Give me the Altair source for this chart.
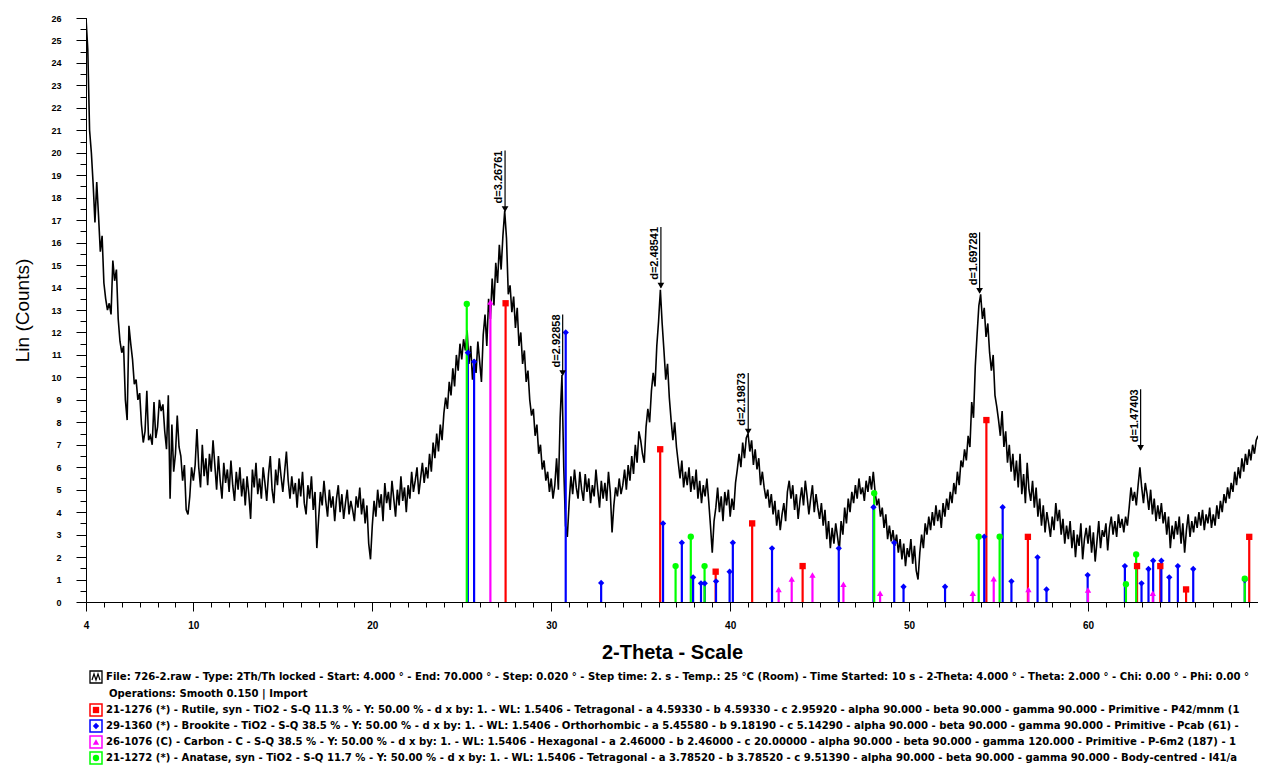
import altair as alt
import pandas as pd

# ---------------- data ----------------
# scan: 2-theta from 4.0 deg in 0.1 deg steps, counts (Lin)
scan_start = 4.0
scan_step = 0.1
counts = [
    26.0, 24.6, 21.0, 20.0, 18.6, 16.9, 18.7, 17.2, 15.6, 16.3,   # 4
    14.2, 13.5, 13.0, 13.3, 12.8, 15.2, 14.3, 14.8, 12.6, 11.6,   # 5
    11.1, 11.4, 9.0, 8.1, 12.3, 11.5, 10.8, 9.7, 9.9, 9.0,        # 6
    9.3, 7.9, 7.1, 7.6, 9.4, 7.2, 7.4, 7.0, 8.9, 7.3,             # 7
    7.8, 9.0, 8.5, 8.8, 7.6, 6.8, 9.2, 4.6, 7.9, 5.8,             # 8
    6.6, 8.3, 6.9, 6.5, 5.4, 6.1, 4.1, 3.9, 4.7, 6.0,             # 9
    5.4, 6.1, 7.7, 6.0, 5.1, 7.0, 5.6, 6.4, 5.2, 6.6,             # 10
    5.8, 7.2, 6.1, 5.0, 6.5, 5.4, 4.6, 6.2, 5.3, 5.9,             # 11
    4.9, 6.3, 5.2, 4.5, 5.8, 5.0, 6.0, 4.7, 5.5, 4.3,             # 12
    5.6, 4.8, 3.7, 5.9, 5.1, 6.2, 4.8, 5.5, 4.6, 6.0,             # 13
    5.3, 4.5, 5.7, 6.5, 5.0, 4.4, 5.9, 5.2, 6.4, 5.6,             # 14
    4.9, 5.8, 6.7, 5.4, 4.6, 5.6, 4.8, 5.3, 4.2, 5.5,             # 15
    4.7, 5.8, 4.4, 3.9, 5.2, 4.6, 5.6, 4.1, 4.9, 2.4,             # 16
    3.7, 4.9, 4.3, 5.4, 4.5, 3.8, 5.0, 4.2, 4.7, 3.6,             # 17
    4.6, 5.2, 4.0, 4.8, 3.7, 4.4, 5.0, 3.9, 4.5, 4.1,             # 18
    3.6, 4.7, 4.2, 5.1, 3.9, 4.6, 3.5, 4.3, 2.6, 1.9,             # 19
    3.4, 4.5, 3.8, 5.0, 4.2, 4.8, 3.6, 5.3, 4.4, 4.9,             # 20
    4.1, 5.4, 4.6, 3.8, 5.0, 4.3, 5.6, 4.5, 5.1, 4.0,             # 21
    5.2, 4.6, 5.8, 4.9, 5.4, 6.0, 4.8, 5.5, 6.2, 5.3,             # 22
    6.0, 5.5, 6.6, 5.8, 7.1, 6.4, 7.5, 6.7, 7.9, 7.2,             # 23
    8.4, 9.1, 8.6, 9.8, 9.2, 10.4, 9.6, 11.0, 10.3, 11.5,         # 24
    10.8, 11.7, 11.2, 12.1, 10.6, 11.4, 9.9, 10.8, 10.2, 11.6,    # 25
    10.7, 9.8, 11.9, 12.8, 11.4, 13.5, 12.6, 14.4, 13.2, 15.1,    # 26
    14.2, 15.9, 14.8, 16.3, 17.4, 16.2, 13.7, 14.1, 12.9, 13.6,   # 27
    12.2, 13.1, 11.4, 12.0, 10.6, 11.2, 9.8, 10.3, 9.0, 8.3,      # 28
    8.6, 7.4, 7.9, 6.6, 7.0, 5.9, 6.3, 5.4, 5.8, 4.9,             # 29
    5.5, 4.6, 5.2, 6.4, 5.0, 8.2, 10.1, 6.0, 3.4, 2.9,            # 30
    4.4, 5.6, 4.8, 5.9, 5.1, 4.6, 5.8, 5.0, 4.5, 5.7,             # 31
    4.9, 5.5, 4.4, 5.2, 4.7, 5.9, 5.0, 4.2, 5.4, 4.6,             # 32
    5.3, 4.5, 5.8, 4.9, 3.1, 4.3, 5.1, 4.7, 5.5, 4.8,             # 33
    5.2, 5.9, 5.0, 6.1, 5.4, 6.5, 5.7, 7.0, 6.2, 7.6,             # 34
    7.2, 6.6, 6.2, 7.8, 8.6, 8.0, 9.4, 10.2, 9.6, 11.4,           # 35
    12.5, 13.9, 12.4, 11.2, 9.9, 10.6, 9.1, 8.1, 7.2, 8.0,        # 36
    6.9, 6.2, 5.5, 6.3, 5.1, 5.8, 5.2, 6.0, 4.9, 5.6,             # 37
    5.0, 5.9, 4.6, 5.4, 4.4, 5.2, 4.7, 5.5, 4.5, 3.4,             # 38
    2.2, 3.6, 4.2, 5.1, 4.0, 4.7, 3.6, 4.9, 4.3, 5.0,             # 39
    3.8, 4.6, 4.1, 5.3, 5.9, 6.6, 6.0, 7.1, 6.4, 7.3,             # 40
    7.5, 6.7, 7.2, 6.1, 6.8, 5.9, 6.4, 5.2, 5.8, 5.1,             # 41
    4.6, 5.0, 4.2, 4.8, 3.9, 4.5, 3.4, 4.1, 3.2, 3.9,             # 42
    4.4, 3.6, 4.9, 5.4, 4.6, 5.2, 4.1, 4.8, 3.7, 4.5,             # 43
    5.1, 4.3, 5.4, 4.7, 3.9, 4.6, 5.2, 4.0, 4.8, 4.2,             # 44
    3.7, 4.4, 3.4, 4.1, 2.8, 3.6, 2.4, 3.3, 2.6, 3.5,             # 45
    2.9, 2.3, 3.6, 3.0, 4.2, 3.5, 4.6, 4.0, 4.9, 4.4,             # 46
    5.2, 4.6, 5.5, 4.8, 5.1, 4.5, 5.4, 4.9, 5.6, 5.0,             # 47
    5.8, 4.9, 4.3, 4.6, 3.8, 4.2, 3.3, 3.9, 2.8, 3.4,             # 48
    2.7, 3.2, 2.5, 3.0, 2.2, 2.8, 1.9, 2.6, 1.6, 2.4,             # 49
    2.0, 2.8, 1.7, 2.5, 1.4, 1.0, 2.2, 3.0, 2.4, 3.5,             # 50
    3.0, 3.8, 3.2, 4.0, 3.4, 4.3, 3.6, 4.1, 3.3, 4.4,             # 51
    3.8, 4.6, 4.1, 4.9, 4.4, 5.3, 4.8, 5.8, 5.2, 6.3,             # 52
    6.0, 6.8, 6.3, 7.4, 6.9, 8.9, 8.2, 10.5, 11.9, 13.2,          # 53
    13.7, 12.6, 13.1, 11.8, 12.4, 11.1, 10.3, 11.0, 9.2, 8.7,     # 54
    8.1, 7.4, 8.5, 6.9, 7.6, 6.2, 7.0, 5.8, 6.6, 5.4,             # 55
    6.3, 5.1, 6.6, 4.8, 5.7, 4.4, 6.2, 5.0, 4.5, 5.4,             # 56
    4.2, 5.1, 3.8, 4.6, 3.4, 4.3, 3.1, 4.0, 3.5, 2.9,             # 57
    3.8, 3.2, 4.4, 3.6, 4.1, 3.0, 3.7, 2.6, 3.4, 2.8,             # 58
    3.6, 2.4, 3.2, 2.0, 3.0, 2.5, 3.5, 1.9, 2.8, 3.3,             # 59
    2.6, 3.4, 2.2, 3.1, 1.8, 2.7, 3.6, 2.4, 3.2, 2.9,             # 60
    3.5, 2.3, 3.3, 3.8, 3.0, 3.6, 2.9, 3.9, 3.3, 3.7,             # 61
    3.1, 3.8, 3.4, 4.2, 5.1, 4.5, 4.9, 4.3, 5.2, 6.0,             # 62
    5.1, 4.4, 5.3, 4.8, 4.1, 5.0, 3.9, 4.6, 3.6, 4.3,             # 63
    3.7, 4.4, 3.5, 4.0, 3.0, 3.8, 2.4, 3.4, 2.8, 3.6,             # 64
    3.0, 3.8, 2.6, 3.5, 2.2, 3.2, 3.9, 2.9, 3.6, 3.1,             # 65
    3.8, 3.3, 4.0, 3.4, 4.1, 3.2, 3.9, 3.5, 4.2, 3.3,             # 66
    3.9, 3.4, 4.3, 3.7, 4.5, 4.0, 4.8, 4.4, 5.1, 4.6,             # 67
    5.3, 4.9, 5.8, 5.2, 6.0, 5.5, 6.4, 5.8, 6.6, 6.1,             # 68
    6.8, 6.3, 7.0, 6.6, 7.2, 7.4,                                 # 69
]

# reference patterns (stick positions in 2-theta, stick heights in counts)
rutile_pos = [27.45, 36.09, 39.19, 41.23, 44.05, 54.32, 56.64, 62.74, 64.04, 65.48, 69.01]
rutile_int = [13.3, 6.8, 1.35, 3.5, 1.6, 8.1, 2.9, 1.6, 1.6, 0.56, 2.9]

brookite_pos = [25.34, 25.69, 30.81, 32.79, 36.25, 37.30, 37.93, 38.37, 38.58, 39.21,
                39.97, 40.15, 42.34, 46.07, 48.01, 49.17, 49.69, 52.01, 54.20, 55.23,
                55.72, 57.18, 57.68, 59.98, 62.06, 62.99, 63.38, 63.64, 64.10, 64.54,
                65.02, 65.88, 68.76]
brookite_int = [11.1, 10.7, 12.0, 0.85, 3.5, 2.64, 1.1, 0.83, 0.83, 0.92,
                1.35, 2.64, 2.39, 2.39, 4.22, 2.64, 0.68, 0.68, 2.91, 4.22,
                0.92, 1.99, 0.56, 1.2, 1.6, 0.83, 1.47, 1.84, 1.84, 1.1,
                1.6, 1.47, 0.98]

carbon_pos = [26.60, 42.71, 43.44, 44.60, 46.33, 48.38, 53.56, 54.73, 56.67, 60.00, 63.62]
carbon_int = [13.36, 0.56, 1.02, 1.2, 0.79, 0.39, 0.39, 1.04, 0.56, 0.53, 0.39]

anatase_pos = [25.28, 36.95, 37.80, 38.57, 48.05, 53.89, 55.06, 62.12, 62.69, 68.76]
anatase_int = [13.27, 1.6, 2.91, 1.6, 4.84, 2.91, 2.91, 0.79, 2.12, 1.04]

phase_names = ["Rutile", "Brookite", "Carbon", "Anatase"]
phase_colors = ["#ff0000", "#0000ff", "#ff00ff", "#00ff00"]
phase_shapes = ["square", "diamond", "triangle-up", "circle"]

# d-spacing peak labels
peak_pos = [27.42, 30.64, 36.13, 41.01, 53.94, 62.94]
peak_top = [17.4, 10.1, 14.0, 7.5, 13.76, 6.77]
peak_label = ["d=3.26761", "d=2.92858", "d=2.48541", "d=2.19873", "d=1.69728", "d=1.47403"]

# x tick labels, y tick labels
x_label_values = [4, 10, 20, 30, 40, 50, 60]
x_tick_values = list(range(4, 70))
y_tick_values = [i / 2 for i in range(53)]

legend_lines = [
    "File: 726-2.raw - Type: 2Th/Th locked - Start: 4.000 \u00b0 - End: 70.000 \u00b0 - Step: 0.020 \u00b0 - Step time: 2. s - Temp.: 25 \u00b0C (Room) - Time Started: 10 s - 2-Theta: 4.000 \u00b0 - Theta: 2.000 \u00b0 - Chi: 0.00 \u00b0 - Phi: 0.00 \u00b0",
    "Operations: Smooth 0.150 | Import",
    "21-1276 (*) - Rutile, syn - TiO2 - S-Q 11.3 % - Y: 50.00 % - d x by: 1. - WL: 1.5406 - Tetragonal - a 4.59330 - b 4.59330 - c 2.95920 - alpha 90.000 - beta 90.000 - gamma 90.000 - Primitive - P42/mnm (1",
    "29-1360 (*) - Brookite - TiO2 - S-Q 38.5 % - Y: 50.00 % - d x by: 1. - WL: 1.5406 - Orthorhombic - a 5.45580 - b 9.18190 - c 5.14290 - alpha 90.000 - beta 90.000 - gamma 90.000 - Primitive - Pcab (61) -",
    "26-1076 (C) - Carbon - C - S-Q 38.5 % - Y: 50.00 % - d x by: 1. - WL: 1.5406 - Hexagonal - a 2.46000 - b 2.46000 - c 20.00000 - alpha 90.000 - beta 90.000 - gamma 120.000 - Primitive - P-6m2 (187) - 1",
    "21-1272 (*) - Anatase, syn - TiO2 - S-Q 11.7 % - Y: 50.00 % - d x by: 1. - WL: 1.5406 - Tetragonal - a 3.78520 - b 3.78520 - c 9.51390 - alpha 90.000 - beta 90.000 - gamma 90.000 - Body-centred - I41/a",
]

# ---------------- tables ----------------
scan = pd.DataFrame({
    "two_theta": [round(scan_start + i * scan_step, 2) for i in range(len(counts))],
    "counts": counts,
})

frames = []
for name, pos, inten in zip(phase_names,
                            [rutile_pos, brookite_pos, carbon_pos, anatase_pos],
                            [rutile_int, brookite_int, carbon_int, anatase_int]):
    frames.append(pd.DataFrame({"phase": name, "two_theta": pos, "counts": inten}))
sticks = pd.concat(frames, ignore_index=True)

LEADER = 2.7  # length of the d-label leader, in counts
peaks = pd.DataFrame({
    "two_theta": peak_pos,
    "counts": peak_top,
    "leader_top": [t + LEADER for t in peak_top],
    "label": peak_label,
})

# ---------------- styling ----------------
FONT = "Liberation Sans, Arial, sans-serif"
LFONT = "DejaVu Sans, Verdana, sans-serif"
W, H = 1172, 584

x_scale = alt.Scale(domain=[4, 69.5], nice=False, zero=False)
y_scale = alt.Scale(domain=[0, 26], nice=False, zero=True)
color_scale = alt.Scale(domain=phase_names, range=phase_colors)
shape_scale = alt.Scale(domain=phase_names, range=phase_shapes)

x_axis = alt.Axis(
    title="2-Theta - Scale",
    values=x_tick_values,
    labelExpr="indexof(%s, datum.value) >= 0 ? format(datum.value, 'd') : ''" % str(x_label_values),
    tickSize={"condition": {"test": "indexof(%s, datum.value) >= 0" % str(x_label_values), "value": 9}, "value": 5},
    labelOverlap=False, labelFlush=False,
    labelFont=FONT, labelFontSize=10, labelFontWeight="bold", labelColor="black",
    labelPadding=9,
    titleFont=FONT, titleFontSize=20, titleFontWeight="bold", titleColor="black",
    titlePadding=12,
    domainColor="black", tickColor="black", grid=False,
)
y_axis = alt.Axis(
    title="Lin (Counts)",
    values=y_tick_values,
    labelExpr="datum.value % 1 == 0 ? format(datum.value, 'd') : ''",
    tickSize={"condition": {"test": "datum.value % 1 == 0", "value": 10}, "value": 6},
    labelOverlap=False, labelFlush=False,
    labelFont=FONT, labelFontSize=9, labelFontWeight="bold", labelColor="black",
    labelPadding=15,
    titleFont=FONT, titleFontSize=19, titleFontWeight="normal", titleColor="black",
    titlePadding=18,
    domainColor="black", tickColor="black", grid=False,
)

X_ENC = alt.X("two_theta:Q", scale=x_scale, axis=x_axis)
Y_ENC = alt.Y("counts:Q", scale=y_scale, axis=y_axis)

line = alt.Chart(scan).mark_line(color="black", strokeWidth=1.6, clip=True).encode(
    x=X_ENC, y=Y_ENC,
)

stick_rules = alt.Chart(sticks).mark_rule(strokeWidth=2.2).encode(
    x=X_ENC, y=Y_ENC,
    y2=alt.datum(0),
    color=alt.Color("phase:N", scale=color_scale, legend=None),
)
stick_marks = alt.Chart(sticks).mark_point(filled=True, size=40, opacity=1).encode(
    x=X_ENC, y=Y_ENC,
    color=alt.Color("phase:N", scale=color_scale, legend=None),
    shape=alt.Shape("phase:N", scale=shape_scale, legend=None),
)

leaders = alt.Chart(peaks).mark_rule(color="black", strokeWidth=1.2).encode(
    x=X_ENC, y=Y_ENC,
    y2="leader_top:Q",
)
arrows = alt.Chart(peaks).mark_point(shape="triangle-down", filled=True, color="black",
                                     size=45, opacity=1, yOffset=-2).encode(
    x=X_ENC, y=Y_ENC,
)
peak_text = alt.Chart(peaks).mark_text(angle=270, align="right", baseline="bottom",
                                       font=FONT, fontSize=11, fontWeight="bold",
                                       color="black", dy=-1).encode(
    x=X_ENC,
    y=alt.Y("leader_top:Q", scale=y_scale, axis=y_axis),
    text="label:N",
)

# ---------------- legend block under the axis ----------------
row_y = [659, 675.5, 692, 708, 724, 740]
icon_x = 10
text_x = 20
legend_layers = []
one = pd.DataFrame({"k": [0]})
# scan icon
legend_layers.append(alt.Chart(one).mark_point(shape="square", filled=False, color="black",
                                               size=144, strokeWidth=1.3, opacity=1).encode(
    x=alt.value(icon_x), y=alt.value(row_y[0])))
legend_layers.append(alt.Chart(one).mark_point(
    shape="M-0.8,0.6L-0.4,-0.6L0,0.6L0.4,-0.6L0.8,0.6", filled=False, color="black",
    size=100, strokeWidth=1.2, opacity=1).encode(x=alt.value(icon_x), y=alt.value(row_y[0])))
for i, txt in enumerate(legend_lines):
    tx = text_x + (3 if i == 1 else 0)
    legend_layers.append(alt.Chart(pd.DataFrame({"t": [txt]})).mark_text(
        align="left", baseline="middle", font=LFONT, fontSize=10.1, fontWeight="bold",
        color="black").encode(x=alt.value(tx), y=alt.value(row_y[i]), text="t:N"))
for j, (col, shp) in enumerate(zip(phase_colors, phase_shapes)):
    ry = row_y[j + 2]
    legend_layers.append(alt.Chart(one).mark_point(shape="square", filled=False, color=col,
                                                   size=144, strokeWidth=1.5, opacity=1).encode(
        x=alt.value(icon_x), y=alt.value(ry)))
    legend_layers.append(alt.Chart(one).mark_point(shape=shp, filled=True, color=col,
                                                   size=40, opacity=1).encode(
        x=alt.value(icon_x), y=alt.value(ry)))

chart = alt.layer(
    line, stick_rules, stick_marks, leaders, arrows, peak_text, *legend_layers
).properties(
    width=W, height=H,
    autosize=alt.AutoSizeParams(type="none"),
    padding={"left": 78, "top": 10, "right": 0, "bottom": 163},
).configure_view(stroke=None).configure_axis(grid=False)

chart.save("out.html", embed_options={"renderer": "svg", "actions": False})
